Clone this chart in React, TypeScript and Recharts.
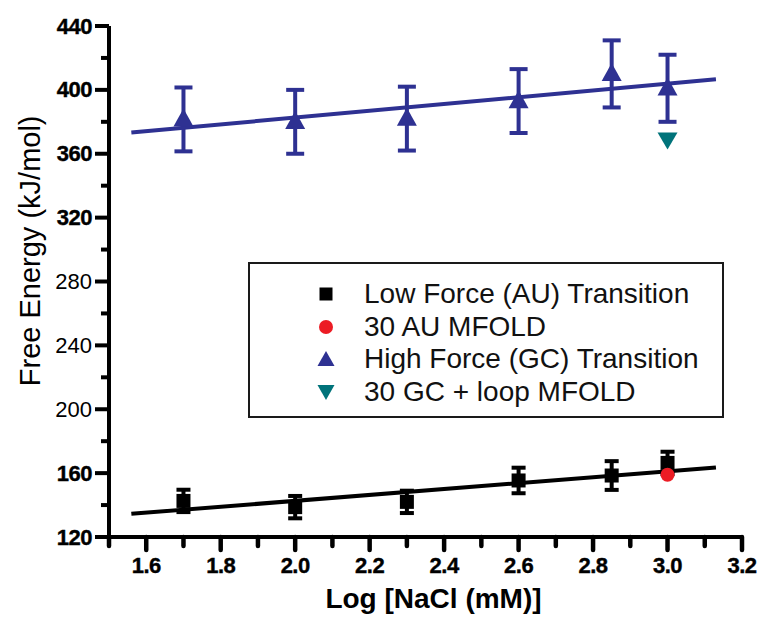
import React from 'react';
import { ScatterChart, Scatter, XAxis, YAxis, ErrorBar, Legend } from 'recharts';

// ---- data ----
const concentrations = [1.7, 2.0, 2.3, 2.6, 2.85, 3.0];
const lowForceValues = [142.6, 138.7, 142.0, 155.4, 158.5, 166.4];
const lowForceErrors = [7, 7, 7, 8, 9, 7];
const highForceValues = [381.5, 380.0, 382.0, 393.0, 410.0, 401.0];
const highForceErrors = [20, 20, 20, 20, 21, 21];
const auMfoldX = [3.0];
const auMfoldValues = [159];
const gcMfoldX = [3.0];
const gcMfoldValues = [369];
const fitX = [1.56, 3.13];
const lowFitValues = [134.5, 163.5];
const highFitValues = [373.3, 406.6];

const xMajorTicks = [1.6, 1.8, 2.0, 2.2, 2.4, 2.6, 2.8, 3.0, 3.2];
const xMinorTicks = [1.5, 1.7, 1.9, 2.1, 2.3, 2.5, 2.7, 2.9, 3.1];
const yMajorTicks = [120, 160, 200, 240, 280, 320, 360, 400, 440];
const yMinorTicks = [140, 180, 220, 260, 300, 340, 380, 420];

const seriesNames = [
  'Low Force (AU) Transition',
  '30 AU MFOLD',
  'High Force (GC) Transition',
  '30 GC + loop MFOLD',
];

const COLORS = ['#000000', '#ec1c24', '#2e3192', '#00737a'];
const FONT = '"Liberation Sans", Arial, Helvetica, sans-serif';

const lowData = concentrations.map((x, i) => ({ x, y: lowForceValues[i], err: lowForceErrors[i] }));
const highData = concentrations.map((x, i) => ({ x, y: highForceValues[i], err: highForceErrors[i] }));
const auData = auMfoldX.map((x, i) => ({ x, y: auMfoldValues[i] }));
const gcData = gcMfoldX.map((x, i) => ({ x, y: gcMfoldValues[i] }));
const lowFit = fitX.map((x, i) => ({ x, y: lowFitValues[i] }));
const highFit = fitX.map((x, i) => ({ x, y: highFitValues[i] }));

const allXTicks = [...xMajorTicks, ...xMinorTicks].sort((a, b) => a - b);
const allYTicks = [...yMajorTicks, ...yMinorTicks].sort((a, b) => a - b);

// ---- marker shapes ----
const Square = ({ cx, cy, s = 14, color = COLORS[0] }: any) => (
  <rect x={cx - s / 2} y={cy - s / 2} width={s} height={s} fill={color} />
);
const Circle = ({ cx, cy, r = 7, color = COLORS[1] }: any) => (
  <circle cx={cx} cy={cy} r={r} fill={color} />
);
const TriUp = ({ cx, cy, w = 20, h = 18, color = COLORS[2] }: any) => (
  <path d={`M${cx},${cy - h * 0.6} L${cx + w / 2},${cy + h * 0.4} L${cx - w / 2},${cy + h * 0.4} Z`} fill={color} />
);
const TriDown = ({ cx, cy, w = 20, h = 17, color = COLORS[3] }: any) => (
  <path d={`M${cx},${cy + h * 0.6} L${cx + w / 2},${cy - h * 0.4} L${cx - w / 2},${cy - h * 0.4} Z`} fill={color} />
);

const NoShape = () => <g />;

// ---- ticks ----
const XTick = (props: any) => {
  const { x, y, payload } = props;
  const v = payload.value;
  const major = xMajorTicks.some((t) => Math.abs(t - v) < 1e-6);
  return (
    <g>
      <line x1={x} x2={x} y1={y} y2={y + (major ? 13 : 9)} stroke="#000" strokeWidth={4.5} strokeLinecap="round" />
      {major && (
        <text x={x} y={y + 28} textAnchor="middle" dominantBaseline="central"
          fontFamily={FONT} fontWeight="bold" fontSize={22} letterSpacing={-0.5}
          stroke="#000" strokeWidth={0.4} fill="#000">
          {v.toFixed(1)}
        </text>
      )}
    </g>
  );
};

const YTick = (props: any) => {
  const { x, y, payload } = props;
  const v = payload.value;
  const major = yMajorTicks.includes(v);
  const bold = v >= 320 || v <= 160;
  return (
    <g>
      <line x1={x - (major ? 14 : 8)} x2={x} y1={y} y2={y} stroke="#000" strokeWidth={4} />
      {major && (
        <text x={x - 17} y={y} textAnchor="end" dominantBaseline="central"
          fontFamily={FONT} fontWeight={bold ? 'bold' : 'normal'} fontSize={22}
          letterSpacing={bold ? -0.5 : 0}
          stroke="#000" strokeWidth={bold ? 0.4 : 0} fill="#000">
          {v}
        </text>
      )}
    </g>
  );
};

const YTitle = (props: any) => {
  const vb = props.viewBox || {};
  const cx = 30;
  const cy = vb.y + vb.height * 0.44;
  return (
    <text x={cx} y={cy} transform={`rotate(-90, ${cx}, ${cy})`} textAnchor="middle" dominantBaseline="central"
      fontFamily={FONT} fontSize={29} fill="#000">
      Free Energy (kJ/mol)
    </text>
  );
};

const XTitle = (props: any) => {
  const vb = props.viewBox || {};
  const cx = vb.x + vb.width / 2 + 8;
  const cy = vb.y + 61;
  return (
    <text x={cx} y={cy} textAnchor="middle" dominantBaseline="central"
      fontFamily={FONT} fontWeight="bold" fontSize={28} fill="#000">
      Log [NaCl (mM)]
    </text>
  );
};

const legendMarkers = [
  <Square cx={10} cy={10} s={13} />,
  <Circle cx={10} cy={10} r={7} />,
  <TriUp cx={10} cy={11} w={17} h={15} />,
  <TriDown cx={10} cy={9} w={17} h={15} />,
];

const LegendBox = () => (
  <div style={{
    boxSizing: 'border-box', width: 476, height: 156, border: '2px solid #1a1a1a',
    background: '#fff', paddingTop: 14,
  }}>
    {seriesNames.map((name, i) => (
      <div key={name} style={{ position: 'relative', height: 32.5 }}>
        <svg width={20} height={20} style={{ position: 'absolute', left: 66, top: 6 }}>
          {legendMarkers[i]}
        </svg>
        <span style={{
          position: 'absolute', left: 114, top: 0, lineHeight: '32.5px',
          fontFamily: FONT, fontSize: 28, color: '#111', whiteSpace: 'nowrap',
        }}>{name}</span>
      </div>
    ))}
  </div>
);

export default function App() {
  return (
    <div style={{ position: 'absolute', left: 0, top: 0, width: 760, height: 625, background: '#fff' }}>
      <ScatterChart width={760} height={625} margin={{ top: 26, right: 18, bottom: 0, left: 0 }}>
        <XAxis
          type="number" dataKey="x" domain={[1.5, 3.2]} ticks={allXTicks} interval={0}
          height={88} tickSize={0} tickMargin={0} tickLine={false}
          axisLine={{ stroke: '#000', strokeWidth: 4 }} tick={<XTick />}
          label={<XTitle />} allowDataOverflow
        />
        <YAxis
          type="number" dataKey="y" domain={[120, 440]} ticks={allYTicks} interval={0}
          width={109} tickSize={0} tickMargin={0} tickLine={false}
          axisLine={{ stroke: '#000', strokeWidth: 4 }} tick={<YTick />}
          label={<YTitle />} allowDataOverflow
        />
        <Legend
          layout="horizontal" verticalAlign="middle" align="center"
          content={<LegendBox />}
          wrapperStyle={{ position: 'absolute', left: 248, top: 262, width: 476, height: 156 }}
        />
        <Scatter data={lowFit} line={{ stroke: COLORS[0], strokeWidth: 4 }} shape={<NoShape />}
          legendType="none" isAnimationActive={false} />
        <Scatter data={highFit} line={{ stroke: COLORS[2], strokeWidth: 4 }} shape={<NoShape />}
          legendType="none" isAnimationActive={false} />
        <Scatter name={seriesNames[0]} data={lowData} fill={COLORS[0]}
          shape={(p: any) => <Square cx={p.cx} cy={p.cy} />} isAnimationActive={false}>
          <ErrorBar dataKey="err" direction="y" width={7} strokeWidth={4} stroke={COLORS[0]} />
        </Scatter>
        <Scatter name={seriesNames[1]} data={auData} fill={COLORS[1]}
          shape={(p: any) => <Circle cx={p.cx} cy={p.cy} />} isAnimationActive={false} />
        <Scatter name={seriesNames[2]} data={highData} fill={COLORS[2]}
          shape={(p: any) => <TriUp cx={p.cx} cy={p.cy} />} isAnimationActive={false}>
          <ErrorBar dataKey="err" direction="y" width={9} strokeWidth={4} stroke={COLORS[2]} />
        </Scatter>
        <Scatter name={seriesNames[3]} data={gcData} fill={COLORS[3]}
          shape={(p: any) => <TriDown cx={p.cx} cy={p.cy} />} isAnimationActive={false} />
      </ScatterChart>
    </div>
  );
}
